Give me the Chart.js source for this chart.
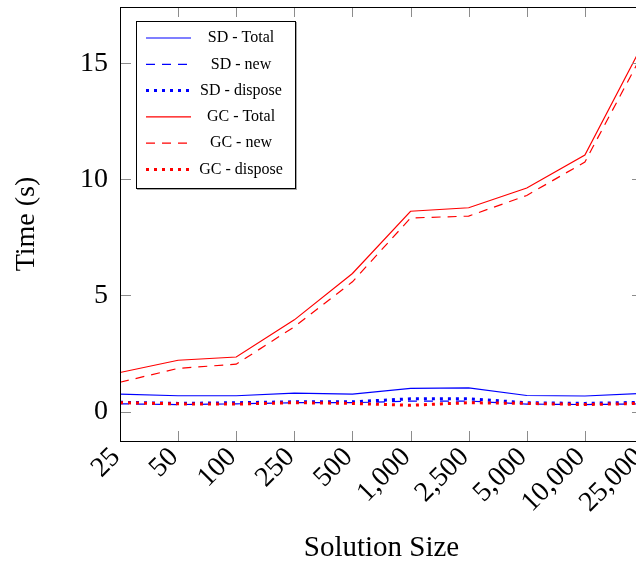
<!DOCTYPE html>
<html>
<head>
<meta charset="utf-8">
<script src="https://cdn.jsdelivr.net/npm/chart.js@4.4.1/dist/chart.umd.min.js"></script>
<style>
  html, body { margin: 0; padding: 0; background: #fff; width: 636px; height: 563px; overflow: hidden; }
  #timeChart { position: absolute; left: 0; top: 0; }
</style>
</head>
<body>
<canvas id="timeChart" width="646" height="563"></canvas>
<script>
// solution sizes on the x axis
var sizes = ["25", "50", "100", "250", "500", "1,000", "2,500", "5,000", "10,000", "25,000"];
var yTicks = [0, 5, 10, 15];

// times in seconds
var sdTotal   = [0.75, 0.68, 0.68, 0.79, 0.75, 1.00, 1.02, 0.69, 0.67, 0.78];
var sdNew     = [0.33, 0.30, 0.33, 0.38, 0.38, 0.45, 0.45, 0.32, 0.30, 0.33];
var sdDispose = [0.40, 0.35, 0.38, 0.42, 0.42, 0.55, 0.55, 0.38, 0.35, 0.40];
var gcTotal   = [1.68, 2.21, 2.35, 3.95, 5.95, 8.63, 8.78, 9.63, 11.05, 15.85];
var gcNew     = [1.26, 1.86, 2.04, 3.65, 5.59, 8.34, 8.42, 9.31, 10.75, 15.45];
var gcDispose = [0.38, 0.33, 0.32, 0.38, 0.35, 0.27, 0.38, 0.35, 0.30, 0.35];

var serif = "'Liberation Serif', 'DejaVu Serif', serif";

function series(label, data, color, kind, order) {
  var ds = {
    label: label,
    data: data,
    borderColor: color,
    backgroundColor: color,
    borderWidth: 1.2,
    pointRadius: 0,
    tension: 0,
    fill: false,
    order: order
  };
  if (kind === 'dashed') ds.borderDash = [9, 7];
  if (kind === 'dotted') { ds.borderDash = [3, 5]; ds.borderWidth = 3; }
  return ds;
}

// frame, inward ticks and the legend box
var framePlugin = {
  id: 'frame',
  afterDatasetsDraw: function(chart) {
    var ctx = chart.ctx, a = chart.chartArea;
    var xs = chart.scales.x, ys = chart.scales.y;
    ctx.save();
    ctx.strokeStyle = '#8c8c8c';
    ctx.lineWidth = 1;
    ctx.beginPath();
    for (var i = 0; i < sizes.length; i++) {
      var px = Math.round(xs.getPixelForValue(i)) + 0.5;
      ctx.moveTo(px, a.bottom); ctx.lineTo(px, a.bottom - 10);
      ctx.moveTo(px, a.top); ctx.lineTo(px, a.top + 10);
    }
    for (var j = 0; j < yTicks.length; j++) {
      var py = Math.round(ys.getPixelForValue(yTicks[j])) + 0.5;
      ctx.moveTo(a.left, py); ctx.lineTo(a.left + 11, py);
      ctx.moveTo(a.right, py); ctx.lineTo(a.right - 11, py);
    }
    ctx.stroke();

    ctx.strokeStyle = '#000';
    ctx.strokeRect(Math.round(a.left) + 0.5, Math.round(a.top) + 0.5,
                   Math.round(a.right - a.left), Math.round(a.bottom - a.top));

    // legend
    var bx = a.left + 16, by = a.top + 14, bw = 159, bh = 167;
    ctx.fillStyle = 'rgba(0,0,0,0.35)';
    ctx.fillRect(bx + 1, by + 1, bw + 1, bh + 1);
    ctx.fillStyle = '#fff';
    ctx.fillRect(bx, by, bw, bh);
    ctx.strokeStyle = '#000';
    ctx.lineWidth = 1;
    ctx.strokeRect(bx + 0.5, by + 0.5, bw, bh);
    ctx.font = '16px ' + serif;
    ctx.textAlign = 'center';
    ctx.textBaseline = 'middle';
    chart.data.datasets.forEach(function(ds, k) {
      var ry = by + 17 + k * 26.3;
      ctx.save();
      ctx.strokeStyle = ds.borderColor;
      ctx.lineWidth = ds.borderWidth;
      ctx.setLineDash(ds.borderDash || []);
      ctx.beginPath();
      ctx.moveTo(bx + 10, ry); ctx.lineTo(bx + 55, ry);
      ctx.stroke();
      ctx.restore();
      ctx.fillStyle = '#000';
      ctx.fillText(ds.label, bx + 105, ry);
    });
    ctx.restore();
  }
};

var timeChart = new Chart(document.getElementById('timeChart').getContext('2d'), {
  type: 'line',
  data: {
    labels: sizes,
    datasets: [
      series('SD - Total',   sdTotal,   'rgb(0,0,255)', 'solid',  5),
      series('SD - new',     sdNew,     'rgb(0,0,255)', 'dashed', 4),
      series('SD - dispose', sdDispose, 'rgb(0,0,255)', 'dotted', 3),
      series('GC - Total',   gcTotal,   'rgb(255,0,0)', 'solid',  2),
      series('GC - new',     gcNew,     'rgb(255,0,0)', 'dashed', 1),
      series('GC - dispose', gcDispose, 'rgb(255,0,0)', 'dotted', 0)
    ]
  },
  options: {
    responsive: false,
    animation: false,
    layout: { padding: { top: 7, right: 3, left: 0, bottom: 0 } },
    plugins: {
      legend: { display: false },
      tooltip: { enabled: false }
    },
    scales: {
      x: {
        type: 'category',
        offset: false,
        grid: { display: false, drawTicks: false },
        border: { display: false },
        ticks: {
          autoSkip: false,
          minRotation: 45,
          maxRotation: 45,
          padding: 0,
          labelOffset: -4,
          color: '#000',
          font: { family: serif, size: 28 }
        },
        title: {
          display: true,
          text: 'Solution Size',
          color: '#000',
          font: { family: serif, size: 29 },
          padding: { top: 0, bottom: -3 }
        },
        afterFit: function(s) {
          s.height = 122;
          s.paddingLeft = 0; s.paddingRight = 0;
        }
      },
      y: {
        min: -1.27,
        max: 17.43,
        grid: { display: false, drawTicks: false },
        border: { display: false },
        afterBuildTicks: function(s) {
          s.ticks = yTicks.map(function(v) { return { value: v }; });
        },
        ticks: {
          padding: 12,
          color: '#000',
          font: { family: serif, size: 28 }
        },
        title: {
          display: true,
          text: 'Time (s)',
          color: '#000',
          font: { family: serif, size: 28 },
          padding: { top: 10, bottom: 0 }
        },
        afterFit: function(s) {
          s.width = 120;
          s.paddingTop = 0; s.paddingBottom = 0;
        }
      }
    }
  },
  plugins: [framePlugin]
});
</script>
</body>
</html>
